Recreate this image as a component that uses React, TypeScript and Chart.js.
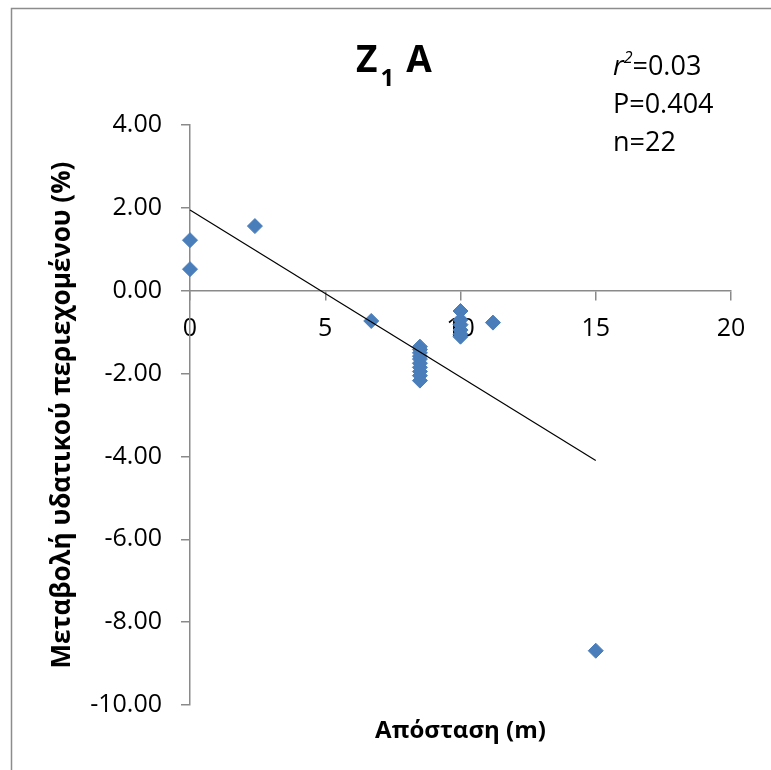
import React, { useEffect, useRef } from "react";
import { Chart, registerables } from "chart.js";

Chart.register(...registerables);

// ---- data ----
const distanceX: number[] = [
  0, 0, 2.4, 6.7,
  8.5, 8.5, 8.5, 8.5, 8.5, 8.5, 8.5, 8.5, 8.5, 8.5,
  10, 10, 10, 10, 10, 10,
  11.2, 15,
];
const changeY: number[] = [
  1.22, 0.52, 1.56, -0.73,
  -1.35, -1.42, -1.5, -1.58, -1.65, -1.75, -1.85, -1.95, -2.05, -2.17,
  -0.49, -0.7, -0.82, -0.95, -1.05, -1.11,
  -0.77, -8.69,
];
const trendX: number[] = [0, 15];
const trendY: number[] = [1.95, -4.1];

const xTickMin = 0;
const xTickMax = 20;
const xTickStep = 5;
const yTickMin = -10;
const yTickMax = 4;
const yTickStep = 2;

const titleMain = "Z";
const titleSub = "1";
const titleRest = "A";
const statR2 = "=0.03";
const statP = "P=0.404";
const statN = "n=22";
const xTitle = "Απόσταση (m)";
const yTitle = "Μεταβολή υδατικού περιεχομένου (%)";

const FONT = "'Open Sans', 'Noto Sans', sans-serif";
const AXIS_GRAY = "#8a8a8a";
const MARKER = "#4A7EBB";

const decorPlugin = {
  id: "decor",
  beforeDraw(chart: any) {
    const { ctx, width, height } = chart;
    ctx.save();
    ctx.fillStyle = "#ffffff";
    ctx.fillRect(0, 0, width, height);
    ctx.strokeStyle = "#8c8c8c";
    ctx.lineWidth = 1.5;
    ctx.strokeRect(11.5, 8.5, width + 20, height + 20);
    ctx.restore();
  },
  afterDraw(chart: any) {
    const { ctx, chartArea } = chart;
    ctx.save();
    ctx.fillStyle = "#000000";
    ctx.textAlign = "left";
    ctx.textBaseline = "alphabetic";

    // Title Z1 A
    let x = 356;
    const by = 72;
    ctx.font = `bold 37px ${FONT}`;
    ctx.fillText(titleMain, x, by);
    x += ctx.measureText(titleMain).width + 3;
    ctx.font = `bold 24px ${FONT}`;
    ctx.fillText(titleSub, x, by + 14);
    x += ctx.measureText(titleSub).width + 12;
    ctx.font = `bold 37px ${FONT}`;
    ctx.fillText(titleRest, x, by);

    // Stats
    const sx = 613;
    ctx.font = `italic 27px ${FONT}`;
    ctx.fillText("r", sx, 75);
    let tx = sx + ctx.measureText("r").width;
    ctx.font = `italic 16px ${FONT}`;
    ctx.fillText("2", tx, 63);
    tx += ctx.measureText("2").width;
    ctx.font = `27px ${FONT}`;
    ctx.fillText(statR2, tx, 75);
    ctx.fillText(statP, sx, 113);
    ctx.fillText(statN, sx, 151);

    // X axis title
    ctx.font = `bold 24px ${FONT}`;
    ctx.textAlign = "center";
    ctx.fillText(xTitle, (chartArea.left + chartArea.right) / 2, 738);
    ctx.restore();
  },
};

export default function App() {
  const ref = useRef<HTMLCanvasElement | null>(null);

  useEffect(() => {
    if (!ref.current) return;
    const points = distanceX.map((d, i) => ({ x: d, y: changeY[i] }));
    const trend = trendX.map((d, i) => ({ x: d, y: trendY[i] }));
    const chart = new Chart(ref.current, {
      type: "scatter",
      data: {
        datasets: [
          {
            type: "line",
            label: "trend",
            data: trend,
            borderColor: "#000000",
            borderWidth: 1.2,
            pointRadius: 0,
            fill: false,
            tension: 0,
            clip: false,
          } as any,
          {
            label: "data",
            data: points,
            pointStyle: "rectRot",
            pointRadius: 7.5,
            backgroundColor: MARKER,
            borderColor: MARKER,
            borderWidth: 1,
            clip: false,
          } as any,
        ],
      },
      options: {
        responsive: false,
        animation: false,
        layout: { padding: { left: 0, right: 40, top: 125, bottom: 65 } },
        plugins: {
          legend: { display: false },
          tooltip: { enabled: false },
          title: { display: false },
        },
        scales: {
          x: {
            type: "linear",
            position: { y: 0 } as any,
            min: xTickMin,
            max: xTickMax,
            ticks: {
              stepSize: xTickStep,
              color: "#000000",
              font: { family: FONT, size: 25 },
              padding: 14,
              maxRotation: 0,
            },
            grid: {
              display: true,
              drawOnChartArea: false,
              drawTicks: true,
              tickLength: 9,
              color: AXIS_GRAY,
              lineWidth: 1.5,
            },
            border: { display: true, color: AXIS_GRAY, width: 1.5 },
          },
          y: {
            type: "linear",
            position: "left",
            min: yTickMin,
            max: yTickMax,
            afterFit: (s: any) => {
              s.width = 190;
            },
            ticks: {
              stepSize: yTickStep,
              color: "#000000",
              font: { family: FONT, size: 25 },
              padding: 19,
              callback: (v: any) => Number(v).toFixed(2),
            },
            grid: {
              display: true,
              drawOnChartArea: false,
              drawTicks: true,
              tickLength: 9,
              color: AXIS_GRAY,
              lineWidth: 1.5,
            },
            border: { display: true, color: AXIS_GRAY, width: 1.5 },
            title: {
              display: true,
              text: yTitle,
              color: "#000000",
              font: { family: FONT, size: 26, weight: "bold" },
              padding: { top: 47, bottom: 0 },
            },
          },
        },
      },
      plugins: [decorPlugin],
    });
    return () => chart.destroy();
  }, []);

  return (
    <div style={{ position: "absolute", left: 0, top: 0, width: 771, height: 770 }}>
      <canvas ref={ref} width={771} height={770} style={{ width: 771, height: 770 }} />
    </div>
  );
}
